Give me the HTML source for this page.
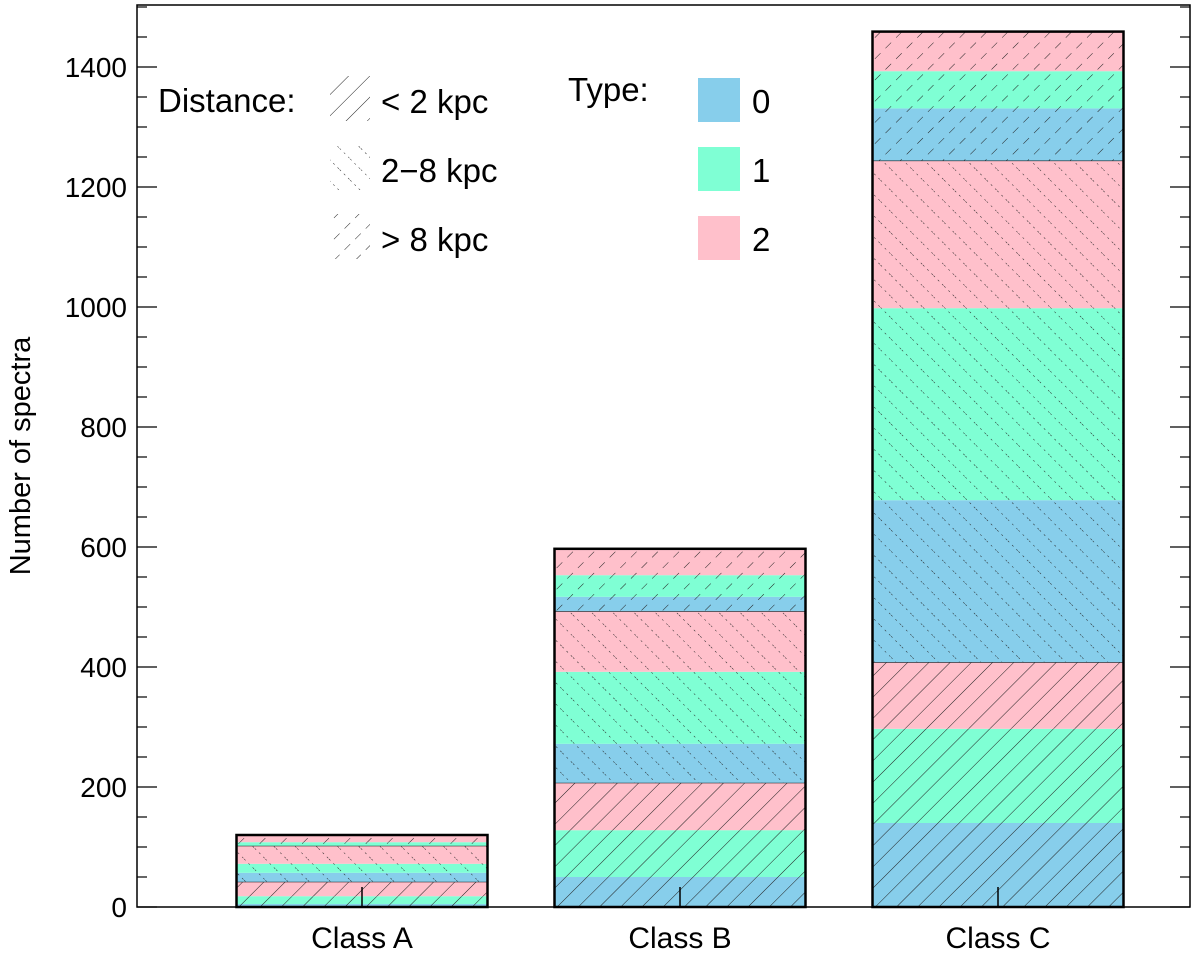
<!DOCTYPE html>
<html><head><meta charset="utf-8"><style>
body{margin:0;background:#fff;}
svg text{font-family:"Liberation Sans",Arial,sans-serif;fill:#000;}
</style></head><body>
<svg id="chart" width="1200" height="951" viewBox="0 0 1200 951" xmlns="http://www.w3.org/2000/svg">
<defs>
<pattern id="hSolid" patternUnits="userSpaceOnUse" width="15" height="15" patternTransform="rotate(45)">
<line x1="0" y1="0" x2="0" y2="15" stroke="#222" stroke-width="1"/></pattern>
<pattern id="hDot" patternUnits="userSpaceOnUse" width="15" height="15" patternTransform="rotate(-45)">
<line x1="0" y1="0" x2="0" y2="15" stroke="#222" stroke-width="1" stroke-dasharray="2,4"/></pattern>
<pattern id="hDash" patternUnits="userSpaceOnUse" width="15" height="15" patternTransform="rotate(45)">
<line x1="0" y1="0" x2="0" y2="15" stroke="#222" stroke-width="1" stroke-dasharray="8,8"/></pattern>
</defs>
<g id="plot"></g>
</svg>
<script>
const categories=["Class A","Class B","Class C"];
const distances=["<2","2-8",">8"];
const types=["0","1","2"];
// values per category, order: [d<2: t0,t1,t2], [d2-8: t0,t1,t2], [d>8: t0,t1,t2]
const classA=[5,13,24, 15,15,30, 0,6,12];
const classB=[50,78,79, 65,120,101, 24,36,44];
const classC=[140,157,111, 270,320,246, 87,62,66];
const yTicks=[0,200,400,600,800,1000,1200,1400];
const series=[classA,classB,classC];
const colors=["#87ceeb","#7fffd4","#ffc0cb"];
const hatch=["url(#hSolid)","url(#hDot)","url(#hDash)"];
const NS="http://www.w3.org/2000/svg";
const L=137,R=1190,T=5,B=907;
const y=v=>B-v*0.6;
const xc=i=>362+i*318;
const bw=251;
const svg=document.getElementById('plot');
function mk(tag,attrs){const e=document.createElementNS(NS,tag);for(const k in attrs)e.setAttribute(k,attrs[k]);svg.appendChild(e);return e;}
series.forEach((vals,ci)=>{
  let acc=0;
  const x0=xc(ci)-bw/2;
  vals.forEach((v,k)=>{
    if(v<=0){return;}
    const d=Math.floor(k/3),t=k%3;
    const r=mk('rect',{x:x0,y:y(acc+v),width:bw,height:v*0.6,fill:colors[t]});
    
    
    const h=mk('rect',{x:x0,y:y(acc+v),width:bw,height:v*0.6,fill:hatch[d]});
    
    
    acc+=v;
    if(t===2){const ln=mk('line',{x1:x0,x2:x0+bw,y1:y(acc),y2:y(acc),stroke:'#000','stroke-width':1});
      
      }
  });
  const o=mk('rect',{x:x0,y:y(acc),width:bw,height:acc*0.6,fill:'none',stroke:'#000','stroke-width':2.5});
  
  
  const tk=mk('line',{x1:xc(ci),x2:xc(ci),y1:B,y2:B-20,stroke:'#000','stroke-width':1.5});
  
  
  const lb=mk('text',{x:xc(ci),y:948,'text-anchor':'middle','font-size':30});
  lb.textContent=categories[ci];
  
  
});
const frame=mk('rect',{x:L,y:T,width:R-L,height:B-T,fill:'none',stroke:'#000','stroke-width':1.5});


for(let v=0;v<=1500;v+=50){
  const major=v%200===0;
  const len=major?20:10;
  const a=mk('line',{x1:L,x2:L+len,y1:y(v),y2:y(v),stroke:'#000','stroke-width':1.2});
  
  
  const b=mk('line',{x1:R,x2:R-len,y1:y(v),y2:y(v),stroke:'#000','stroke-width':1.2});
  
  
}
yTicks.forEach(v=>{
  const t=mk('text',{x:127,y:y(v)+10,'text-anchor':'end','font-size':28});
  t.textContent=v;
  
  
});
const yl=mk('text',{x:0,y:0,'text-anchor':'middle','font-size':29,transform:'translate(30,456) rotate(-90)'});
yl.textContent='Number of spectra';


// legend
function txt(s,x,yy,name){const t=mk('text',{x:x,y:yy,'font-size':33});t.textContent=s;}
txt('Distance:',158,112,'legend-distance-title');
const dl=["< 2 kpc"," 2\u22128 kpc","> 8 kpc"];
dl.forEach((s,i)=>{
  const r=mk('rect',{x:330,y:76+i*69,width:40,height:45,fill:hatch[i]});
  
  
  txt(s,381,113+i*69,'legend-distance-entry');
});
txt('Type:',568,101,'legend-type-title');
types.forEach((s,i)=>{
  const r=mk('rect',{x:698,y:78+i*69,width:42,height:44,fill:colors[i]});
  
  
  txt(s,752,113+i*69,'legend-type-entry');
});
</script>
</body></html>
